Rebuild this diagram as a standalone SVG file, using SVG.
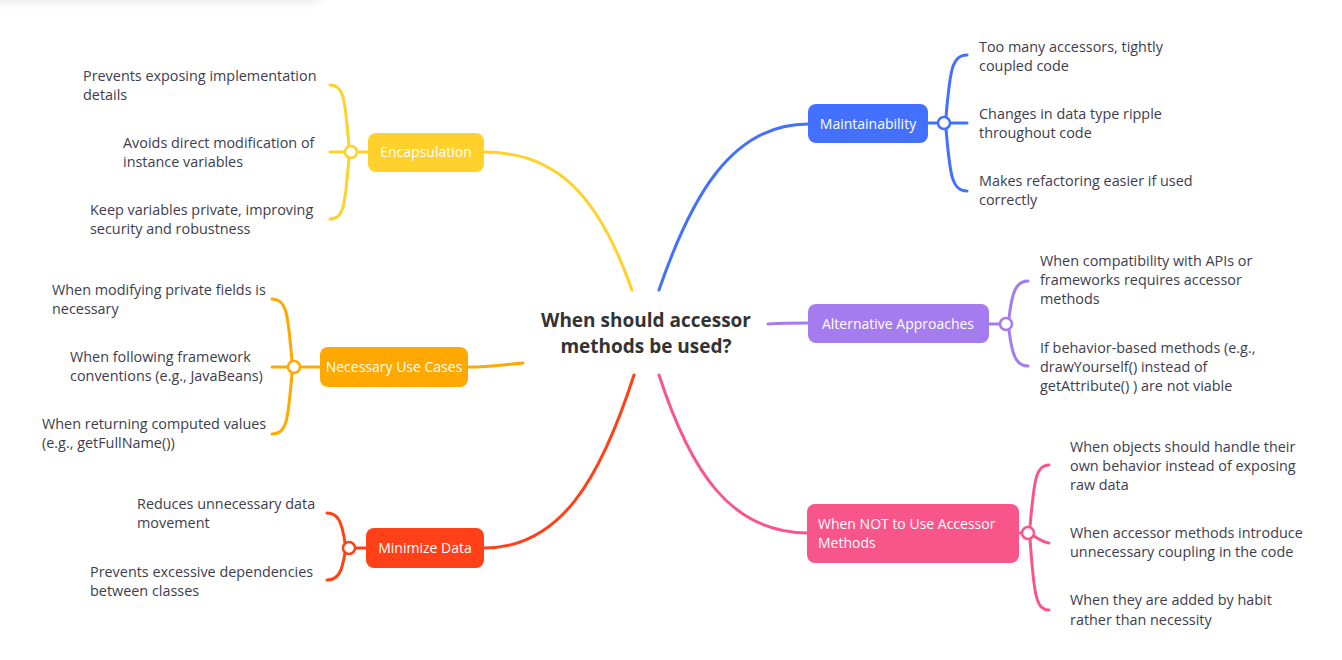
<svg xmlns="http://www.w3.org/2000/svg" width="1342" height="660" viewBox="0 0 1342 660">
<defs>
<filter id="blur" x="-20%" y="-200%" width="140%" height="500%"><feGaussianBlur stdDeviation="6"/></filter>
<style>
.t{font-family:"Open Sans","Lato",sans-serif;font-size:14.4px;fill:#3d3d4e}
.n{font-family:"Open Sans","Lato",sans-serif;font-size:14px;fill:#ffffff}
.c{font-family:"Open Sans","Lato",sans-serif;font-size:19px;font-weight:bold;fill:#333333}
.l{fill:none;stroke-width:3;stroke-linecap:round}
.j{fill:#ffffff;stroke-width:2.5}
.y{stroke:#FFD12A}.o{stroke:#FFA800}.r{stroke:#FF4019}.b{stroke:#4470FF}.p{stroke:#A57BF0}.k{stroke:#F8568A}
</style>
</defs>
<rect x="0" y="0" width="1342" height="660" fill="#ffffff"/>
<rect x="-10" y="-14" width="330" height="14" fill="#000000" opacity="0.12" filter="url(#blur)"/>
<g id="connectors">
<path class="l y" d="M632,290 C600,200 560,152 484,152"/>
<path class="l o" d="M523,363 C500,365 490,367 468,367"/>
<path class="l r" d="M634,375 C600,480 560,548 484,548"/>
<path class="l b" d="M659,290 C690,200 730,124 808,124"/>
<path class="l p" d="M768,324 C785,323 795,323 808,323"/>
<path class="l k" d="M659,375 C690,470 730,533 808,533"/>
<path class="l y" d="M368,152 L330,152 M349,146 C345,100 344,85 330,85 M349,158 C345,205 344,219 330,219"/>
<path class="l o" d="M320,367 L272,367 M292,361 C288,315 287,299 272,299 M292,373 C288,420 287,434 272,434"/>
<path class="l r" d="M366,548 L349,548 M345,543 C342,522 338,513 327,513 M345,553 C342,572 338,580 327,580"/>
<path class="l b" d="M928,123 L967,123 M946,117 C950,70 952,55 967,55 M946,129 C950,176 952,191 967,191"/>
<path class="l p" d="M989,324 L1006,324 M1009,318 C1012,292 1016,281 1028,281 M1009,330 C1012,355 1016,366 1028,366"/>
<path class="l k" d="M1019,533 L1028,533 C1036,536 1040,542 1049,543 M1030,527 C1034,480 1036,465 1049,465 M1030,539 C1034,595 1036,610 1049,610"/>
<circle class="j y" cx="351" cy="152" r="6"/>
<circle class="j o" cx="294" cy="367" r="6"/>
<circle class="j r" cx="349" cy="548" r="6"/>
<circle class="j b" cx="944" cy="123" r="6"/>
<circle class="j p" cx="1006" cy="324" r="6"/>
<circle class="j k" cx="1028" cy="533" r="6"/>
</g>
<g id="center"><text class="c" x="646" y="327" text-anchor="middle">When should accessor</text><text class="c" x="646" y="353" text-anchor="middle">methods be used?</text></g>
<g id="encapsulation"><rect x="368" y="133" width="116" height="39" rx="8" fill="#FFD12A"/><text class="n" x="426" y="157" text-anchor="middle">Encapsulation</text></g>
<g id="necessary"><rect x="320" y="347" width="148" height="40" rx="8" fill="#FFA800"/><text class="n" x="394" y="372" text-anchor="middle">Necessary Use Cases</text></g>
<g id="minimize"><rect x="366" y="528" width="118" height="40" rx="8" fill="#FF4019"/><text class="n" x="425" y="553" text-anchor="middle">Minimize Data</text></g>
<g id="maintainability"><rect x="808" y="104" width="120" height="39" rx="8" fill="#4470FF"/><text class="n" x="868" y="129" text-anchor="middle">Maintainability</text></g>
<g id="alternative"><rect x="808" y="304" width="181" height="39" rx="8" fill="#A57BF0"/><text class="n" x="898" y="329" text-anchor="middle">Alternative Approaches</text></g>
<g id="whennot"><rect x="807" y="504" width="212" height="59" rx="8" fill="#F8568A"/><text class="n" x="818" y="529">When NOT to Use Accessor</text><text class="n" x="818" y="548">Methods</text></g>
<g id="e1"><text class="t" x="83" y="81">Prevents exposing implementation</text><text class="t" x="83" y="100">details</text></g>
<g id="e2"><text class="t" x="123" y="148">Avoids direct modification of</text><text class="t" x="123" y="167">instance variables</text></g>
<g id="e3"><text class="t" x="90" y="215">Keep variables private, improving</text><text class="t" x="90" y="234">security and robustness</text></g>
<g id="n1"><text class="t" x="52" y="295">When modifying private fields is</text><text class="t" x="52" y="314">necessary</text></g>
<g id="n2"><text class="t" x="70" y="362">When following framework</text><text class="t" x="70" y="381">conventions (e.g., JavaBeans)</text></g>
<g id="n3"><text class="t" x="42" y="429">When returning computed values</text><text class="t" x="42" y="448">(e.g., getFullName())</text></g>
<g id="m1"><text class="t" x="137" y="509">Reduces unnecessary data</text><text class="t" x="137" y="528">movement</text></g>
<g id="m2"><text class="t" x="90" y="577">Prevents excessive dependencies</text><text class="t" x="90" y="596">between classes</text></g>
<g id="a1"><text class="t" x="979" y="52">Too many accessors, tightly</text><text class="t" x="979" y="71">coupled code</text></g>
<g id="a2"><text class="t" x="979" y="119">Changes in data type ripple</text><text class="t" x="979" y="138">throughout code</text></g>
<g id="a3"><text class="t" x="979" y="186">Makes refactoring easier if used</text><text class="t" x="979" y="205">correctly</text></g>
<g id="p1"><text class="t" x="1040" y="266">When compatibility with APIs or</text><text class="t" x="1040" y="285">frameworks requires accessor</text><text class="t" x="1040" y="304">methods</text></g>
<g id="p2"><text class="t" x="1040" y="353">If behavior-based methods (e.g.,</text><text class="t" x="1040" y="372">drawYourself() instead of</text><text class="t" x="1040" y="391">getAttribute() ) are not viable</text></g>
<g id="w1"><text class="t" x="1070" y="452">When objects should handle their</text><text class="t" x="1070" y="471">own behavior instead of exposing</text><text class="t" x="1070" y="490">raw data</text></g>
<g id="w2"><text class="t" x="1070" y="538">When accessor methods introduce</text><text class="t" x="1070" y="557">unnecessary coupling in the code</text></g>
<g id="w3"><text class="t" x="1070" y="605">When they are added by habit</text><text class="t" x="1070" y="625">rather than necessity</text></g>
</svg>
